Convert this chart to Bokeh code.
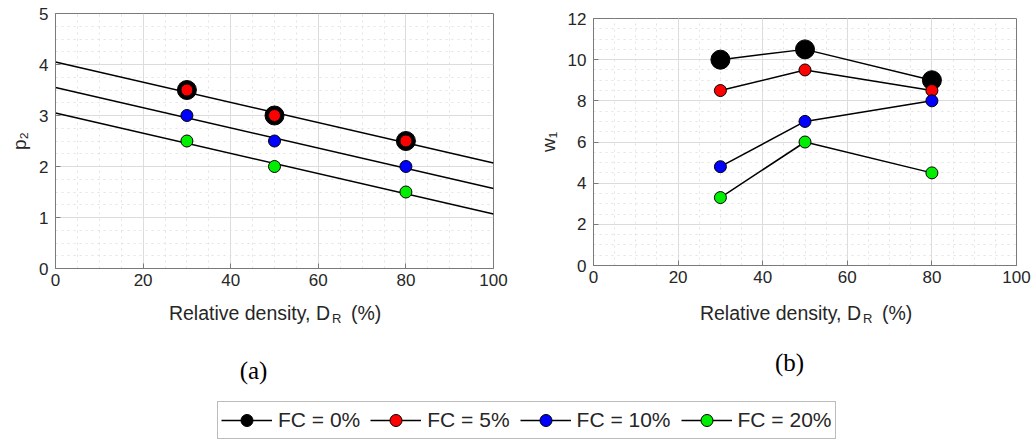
from bokeh.plotting import figure
from bokeh.models import Range1d, Label, Legend, LegendItem, SingleIntervalTicker
from bokeh.layouts import column, row
from bokeh.embed import file_html
from bokeh.resources import INLINE

# ---------------- data ----------------
density = [30, 50, 80]
series_labels = ["FC = 0%", "FC = 5%", "FC = 10%", "FC = 20%"]
series_colors = ["#000000", "#ff0000", "#0000ff", "#00ee00"]

p2_fc0 = [3.5, 3.0, 2.5]
p2_fc5 = [3.5, 3.0, 2.5]
p2_fc10 = [3.0, 2.5, 2.0]
p2_fc20 = [2.5, 2.0, 1.5]

fit_x = [0, 100]
fit_fc0_5 = [4.05, 2.07]
fit_fc10 = [3.55, 1.57]
fit_fc20 = [3.05, 1.07]

w1_fc0 = [10.0, 10.5, 9.0]
w1_fc5 = [8.5, 9.5, 8.5]
w1_fc10 = [4.8, 7.0, 8.0]
w1_fc20 = [3.3, 6.0, 4.5]

x_ticks_interval = 20
captions = ["(a)", "(b)"]

FONT = "Liberation Sans"
TXT = "#262626"
marker_sizes = [19, 12, 12, 12]


def style(p, y_interval, y_label):
    p.xaxis.ticker = SingleIntervalTicker(interval=x_ticks_interval, num_minor_ticks=4)
    p.yaxis.ticker = SingleIntervalTicker(interval=y_interval, num_minor_ticks=4)
    for ax in (p.xaxis, p.yaxis):
        ax.axis_line_color = "#7a7a7a"
        ax.major_tick_line_color = "#7a7a7a"
        ax.major_tick_in = 5
        ax.major_tick_out = 0
        ax.minor_tick_in = 0
        ax.minor_tick_out = 0
        ax.major_label_text_font = FONT
        ax.major_label_text_font_size = "17px"
        ax.major_label_text_color = TXT
    p.yaxis.major_label_standoff = 7
    p.xaxis.major_label_standoff = 5
    p.yaxis.axis_label = y_label
    p.yaxis.axis_label_text_font = FONT
    p.yaxis.axis_label_text_font_size = "19px"
    p.yaxis.axis_label_text_font_style = "normal"
    p.yaxis.axis_label_text_color = TXT
    p.yaxis.axis_label_standoff = 6
    for g in (p.xgrid, p.ygrid):
        g.grid_line_color = "#dcdcdc"
        g.grid_line_width = 1
        g.minor_grid_line_color = "#e3e3e3"
        g.minor_grid_line_dash = "dotted"
    p.outline_line_color = "#7a7a7a"
    p.background_fill_color = "white"


# ---------------- (a) p2 ----------------
p1 = figure(width=515, height=296, x_range=Range1d(0, 100), y_range=Range1d(0, 5),
            title=None, output_backend="svg", toolbar_location=None,
            min_border_left=55, min_border_right=22, min_border_top=13, min_border_bottom=28)
style(p1, 1, "p₂")
for fy in (fit_fc0_5, fit_fc10, fit_fc20):
    p1.line(fit_x, fy, line_color="black", line_width=1.5)
for ys, c, s in zip((p2_fc0, p2_fc5, p2_fc10, p2_fc20), series_colors, marker_sizes):
    p1.scatter(density, ys, size=s, fill_color=c, line_color="black", line_width=1)

# ---------------- (b) w1 ----------------
p2 = figure(width=518, height=296, x_range=Range1d(0, 100), y_range=Range1d(0, 12),
            title=None, output_backend="svg", toolbar_location=None,
            min_border_left=78, min_border_right=17, min_border_top=18, min_border_bottom=31)
style(p2, 2, "w₁")
for ys in (w1_fc0, w1_fc5, w1_fc10, w1_fc20):
    p2.line(density, ys, line_color="black", line_width=1.5)
for ys, c, s in zip((w1_fc0, w1_fc5, w1_fc10, w1_fc20), series_colors, marker_sizes):
    p2.scatter(density, ys, size=s, fill_color=c, line_color="black", line_width=1)

# ---------------- x labels, captions + legend (strip below) ----------------
p3 = figure(width=1033, height=146, x_range=Range1d(0, 1033), y_range=Range1d(0, 146),
            title=None, x_axis_type=None, y_axis_type=None, output_backend="svg",
            toolbar_location=None, min_border=0, outline_line_color=None)
p3.xgrid.visible = False
p3.ygrid.visible = False

for cx in (273.5, 804.5):
    p3.add_layout(Label(x=cx + 56, y=130, text="Relative density, D",
                        text_align="right", text_baseline="middle",
                        text_font=FONT, text_font_size="19.5px", text_color=TXT))
    p3.add_layout(Label(x=cx + 58, y=124, text="R",
                        text_align="left", text_baseline="middle",
                        text_font=FONT, text_font_size="13px", text_color=TXT))
    p3.add_layout(Label(x=cx + 77, y=130, text="(%)",
                        text_align="left", text_baseline="middle",
                        text_font=FONT, text_font_size="19.5px", text_color=TXT))

p3.add_layout(Label(x=253, y=72, text=captions[0], text_align="center", text_baseline="middle",
                    text_font="Liberation Serif", text_font_size="25px", text_color="black"))
p3.add_layout(Label(x=789, y=80, text=captions[1], text_align="center", text_baseline="middle",
                    text_font="Liberation Serif", text_font_size="25px", text_color="black"))

items = []
for lab, c in zip(series_labels, series_colors):
    lr = p3.line(x=[-1000, -900], y=[-1000, -1000], line_color="black", line_width=1.5)
    sr = p3.scatter(x=[-1000], y=[-1000], size=12, fill_color=c, line_color="black", line_width=1)
    items.append(LegendItem(label=lab, renderers=[lr, sr]))
legend = Legend(items=items, orientation="horizontal", location=(217, 3),
                glyph_width=51, glyph_height=30, label_standoff=6, spacing=10,
                padding=3, margin=0, label_height=20,
                label_text_font=FONT, label_text_font_size="21px", label_text_color=TXT,
                border_line_color="#7a7a7a", border_line_width=1,
                background_fill_color="white", background_fill_alpha=1)
p3.add_layout(legend)

layout = column(row(column(p1), column(p2)), p3)

open("out.html", "w").write(file_html(layout, INLINE))
